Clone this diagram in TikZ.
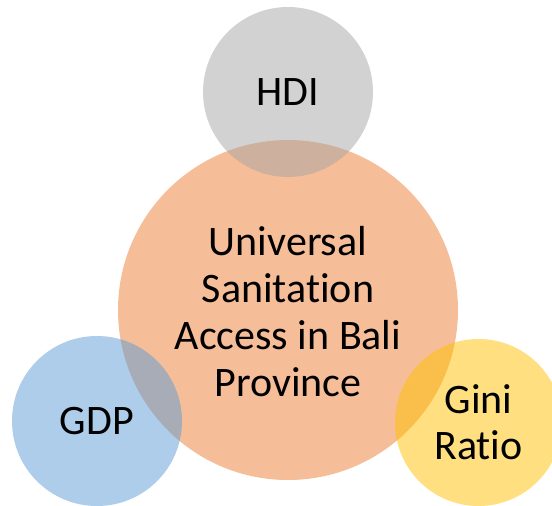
\documentclass[tikz,border=0pt]{standalone}
\usepackage{fontspec}
\setmainfont{Carlito}[Ligatures={NoCommon}]
\usepackage{xcolor}
\definecolor{hdigrey}{HTML}{A5A5A5}
\definecolor{mainorange}{HTML}{ED7D31}
\definecolor{gdpblue}{HTML}{5B9BD5}
\definecolor{ginigold}{HTML}{FFC000}
\begin{document}
\begin{tikzpicture}[x=1bp,y=-1bp,
  bubble/.style={circle,inner sep=0pt,draw=none,fill opacity=0.5,text opacity=1,
    align=center,font=\fontsize{42bp}{47bp}\selectfont}]
\useasboundingbox (0,0) rectangle (552,506);
\node[bubble,fill=mainorange,minimum size=340bp] (access) at (288,310) {};
\node[bubble,fill=hdigrey,minimum size=170bp] (hdi) at (288,92) {HDI};
\node[bubble,fill=gdpblue,minimum size=170bp] (gdp) at (97,421) {GDP};
\node[bubble,fill=ginigold,minimum size=167bp,font=\fontsize{42bp}{46bp}\selectfont] (gini) at (478.5,422.5) {Gini\\Ratio};
% main label, on top of the circles
\node[bubble,fill=none] (accesstext) at (288,312) {Universal\\Sanitation\\Access in Bali\\Province};
\end{tikzpicture}
\end{document}
